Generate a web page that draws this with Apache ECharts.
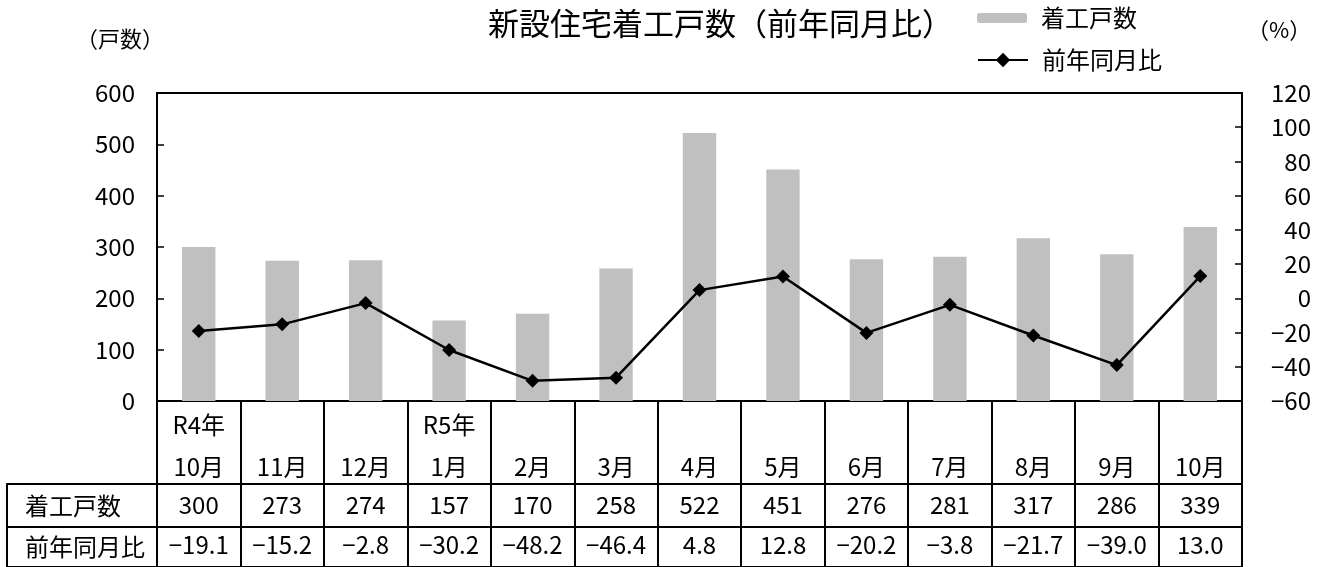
<!DOCTYPE html>
<html>
<head>
<meta charset="utf-8">
<script src="https://cdn.jsdelivr.net/npm/echarts@6/dist/echarts.min.js"></script>
<style>
html, body { margin: 0; padding: 0; background: #fff; }
#main { width: 1327px; height: 567px; }
</style>
</head>
<body>
<div id="main"></div>
<script>
// 表の見出し（年・月）
const years = ['R4年', '', '', 'R5年', '', '', '', '', '', '', '', '', ''];
const months = ['10月', '11月', '12月', '1月', '2月', '3月', '4月', '5月', '6月', '7月', '8月', '9月', '10月'];
// 着工戸数
const starts = [300, 273, 274, 157, 170, 258, 522, 451, 276, 281, 317, 286, 339];
// 前年同月比（%）
const yoy = [-19.1, -15.2, -2.8, -30.2, -48.2, -46.4, 4.8, 12.8, -20.2, -3.8, -21.7, -39.0, 13.0];
// 目盛
const leftTicks = [0, 100, 200, 300, 400, 500, 600];
const rightTicks = [-60, -40, -20, 0, 20, 40, 60, 80, 100, 120];

const FONT = '"Noto Sans CJK JP", "Noto Sans", sans-serif';
const minus = (s) => String(s).replace('-', '−');
const cats = months.map((m, i) => years[i] + '\n' + m);

const chart = echarts.init(document.getElementById('main'));

// 表の行（着工戸数・前年同月比）用の設定
const rowGrid = (top) => ({
  left: 157, top: top, width: 1085, height: 43,
  show: true, borderColor: '#000', borderWidth: 2
});
const rowXAxis = (idx, texts) => ({
  type: 'category', gridIndex: idx, data: cats, position: 'bottom',
  axisLine: { show: false },
  axisTick: { show: false },
  splitLine: { show: true, interval: 0, lineStyle: { color: '#000', width: 2 } },
  axisLabel: {
    inside: true, interval: 0, margin: 10, fontSize: 24, lineHeight: 24,
    color: '#000', fontFamily: FONT,
    formatter: (v, i) => texts[i]
  }
});
const rowYAxis = (idx, name) => ({
  type: 'category', gridIndex: idx, data: [name], position: 'left',
  axisLine: { show: false },
  axisTick: { show: true, length: 150, interval: 0, lineStyle: { color: '#000', width: 2 } },
  axisLabel: { align: 'left', margin: 132, fontSize: 24, color: '#000', fontFamily: FONT }
});
const borderYAxis = (idx) => ({
  type: 'category', gridIndex: idx, data: [''], position: 'left', offset: 150,
  axisLine: { show: true, lineStyle: { color: '#000', width: 2 } },
  axisTick: { show: false }, axisLabel: { show: false }
});

const option = {
  animation: false,
  backgroundColor: '#fff',
  textStyle: { fontFamily: FONT },
  title: [
    { text: '新設住宅着工戸数（前年同月比）', left: 488, top: 8, padding: 0,
      textStyle: { fontSize: 31, fontWeight: 'normal', color: '#000', fontFamily: FONT } },
    { text: '（戸数）', left: 76, top: 28, padding: 0,
      textStyle: { fontSize: 22, fontWeight: 'normal', color: '#000', fontFamily: FONT } },
    { text: '（%）', left: 1247, top: 19, padding: 0,
      textStyle: { fontSize: 22, fontWeight: 'normal', color: '#000', fontFamily: FONT } }
  ],
  legend: [
    { data: ['着工戸数'], left: 977, top: 6, padding: 0, itemWidth: 50, itemHeight: 10,
      textStyle: { fontSize: 24, color: '#000', fontFamily: FONT, padding: [0, 0, 0, 9] } },
    { data: ['前年同月比'], left: 977, top: 48, padding: 0, itemWidth: 50, itemHeight: 18,
      textStyle: { fontSize: 24, color: '#000', fontFamily: FONT, padding: [0, 0, 0, 9] } }
  ],
  grid: [
    { left: 157, top: 93, width: 1085, height: 308, show: true, borderColor: '#000', borderWidth: 2 },
    rowGrid(484),
    rowGrid(527)
  ],
  xAxis: [
    {
      type: 'category', gridIndex: 0, data: cats,
      axisLine: { show: true, lineStyle: { color: '#000', width: 2 } },
      axisTick: { show: true, interval: 0, length: 83, lineStyle: { color: '#000', width: 2 } },
      axisLabel: { interval: 0, margin: 3, fontSize: 24, lineHeight: 42, color: '#000', fontFamily: FONT }
    },
    rowXAxis(1, starts.map(String)),
    rowXAxis(2, yoy.map(v => minus(v.toFixed(1))))
  ],
  yAxis: [
    {
      type: 'value', gridIndex: 0, position: 'left',
      min: leftTicks[0], max: leftTicks[leftTicks.length - 1], interval: leftTicks[1] - leftTicks[0],
      axisLine: { show: true, lineStyle: { color: '#000', width: 2 } },
      axisTick: { show: true, inside: true, length: 7, lineStyle: { color: '#000', width: 1.5 } },
      splitLine: { show: false },
      axisLabel: { margin: 22, fontSize: 24, color: '#000', fontFamily: FONT }
    },
    {
      type: 'value', gridIndex: 0, position: 'right',
      min: rightTicks[0], max: rightTicks[rightTicks.length - 1], interval: rightTicks[1] - rightTicks[0],
      axisLine: { show: true, lineStyle: { color: '#000', width: 2 } },
      axisTick: { show: true, inside: true, length: 7, lineStyle: { color: '#000', width: 1.5 } },
      splitLine: { show: false },
      axisLabel: { align: 'right', margin: 69, fontSize: 24, color: '#000', fontFamily: FONT,
        formatter: v => minus(v) }
    },
    rowYAxis(1, '着工戸数'),
    borderYAxis(1),
    rowYAxis(2, '前年同月比'),
    borderYAxis(2)
  ],
  series: [
    {
      name: '着工戸数', type: 'bar', xAxisIndex: 0, yAxisIndex: 0,
      data: starts, barWidth: '40%',
      itemStyle: { color: '#c0c0c0' }
    },
    {
      name: '前年同月比', type: 'line', xAxisIndex: 0, yAxisIndex: 1,
      data: yoy, symbol: 'diamond', symbolSize: 14,
      lineStyle: { color: '#000', width: 2.5 },
      itemStyle: { color: '#000' }
    }
  ]
};

chart.setOption(option);
</script>
</body>
</html>
